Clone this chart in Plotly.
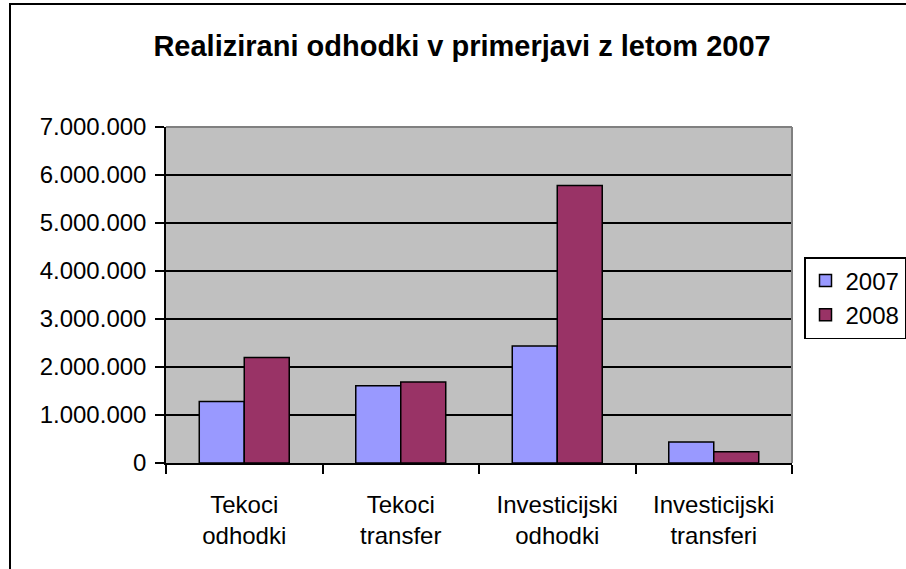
import plotly.graph_objects as go

# values (EUR)
categories = ["Tekoci<br>odhodki", "Tekoci<br>transfer", "Investicijski<br>odhodki", "Investicijski<br>transferi"]
years = ["2007", "2008"]
values_2007 = [1280000, 1610000, 2440000, 440000]
values_2008 = [2200000, 1690000, 5780000, 235000]
y_ticks = [0, 1000000, 2000000, 3000000, 4000000, 5000000, 6000000, 7000000]

colors = {"2007": "#9999FF", "2008": "#993366"}
series = {"2007": values_2007, "2008": values_2008}

font = "Liberation Sans, Arial, sans-serif"

fig = go.Figure()
for yr in years:
    fig.add_trace(go.Bar(x=categories, y=series[yr], name=yr,
                         marker=dict(color=colors[yr], line=dict(color="black", width=1.5))))

# plot area: x 166..792, y 127..463 px
W, H = 906, 569
L, R, T, B = 166, 792, 127, 463

fig.update_layout(
    width=W, height=H,
    margin=dict(l=L, r=W - R, t=T, b=H - B, pad=0, autoexpand=False),
    paper_bgcolor="white", plot_bgcolor="#C0C0C0",
    separators=",.",
    font=dict(family=font, size=24, color="black"),
    title=dict(text="<b>Realizirani odhodki v primerjavi z letom 2007</b>",
               font=dict(size=29, family=font, color="black"),
               x=0.51, xanchor="center", y=1 - 46 / H, yanchor="middle", xref="container", yref="container"),
    barmode="group", bargap=0.425, bargroupgap=0,
    legend=dict(x=(804 - L) / (R - L), xanchor="left", y=(B - 257) / (B - T), yanchor="top",
                bgcolor="white", bordercolor="black", borderwidth=1.5,
                font=dict(size=24, family=font), itemwidth=30),
    showlegend=True,
)

fig.update_xaxes(showline=True, linecolor="black", linewidth=1.5, ticks="outside", ticklen=9,
                 tickcolor="black", tickwidth=1.5, tickson="boundaries", showgrid=False,
                 ticklabelstandoff=19, tickfont=dict(size=24, family=font))
fig.update_yaxes(range=[0, 7000000], tickvals=y_ticks, tickformat=",d", showline=True,
                 linecolor="black", linewidth=1.5, ticks="outside", ticklen=9, tickcolor="black",
                 tickwidth=1.5, showgrid=True, gridcolor="black", gridwidth=1.5, zeroline=False,
                 ticklabelstandoff=4, tickfont=dict(size=24, family=font))

# grey top/right edges of the plot area
fig.add_shape(type="line", xref="paper", yref="paper", x0=0, x1=1, y0=1, y1=1,
              line=dict(color="#808080", width=2), layer="above")
fig.add_shape(type="line", xref="paper", yref="paper", x0=1, x1=1, y0=0, y1=1,
              line=dict(color="#808080", width=2), layer="above")
# outer chart frame (extends past the right/bottom edge)
fig.add_shape(type="rect", xref="paper", yref="paper",
              x0=(10 - L) / (R - L), x1=1.5, y0=-1, y1=(B - 4) / (B - T),
              line=dict(color="black", width=2), layer="above")

fig.write_html("out.html", config={"displayModeBar": False},
               post_script="document.body.style.margin='0';")
